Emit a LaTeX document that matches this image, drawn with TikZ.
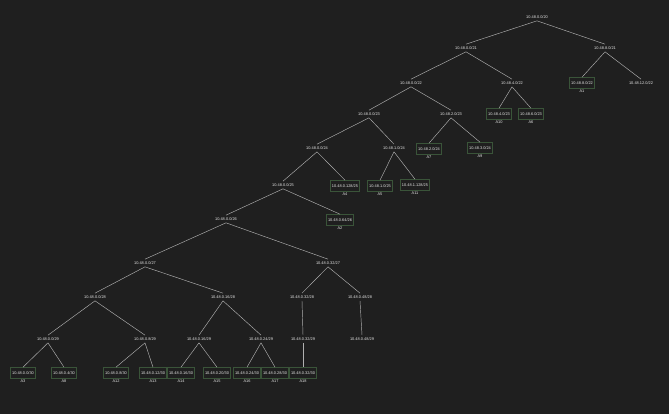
\documentclass[tikz,border=0pt]{standalone}
\usepackage{fontspec}
\setmainfont{Liberation Sans}
\definecolor{bg}{HTML}{1F1F1F}
\definecolor{txt}{HTML}{E4E4E4}
\definecolor{edge}{HTML}{B0B0B0}
\definecolor{leafline}{HTML}{3A5439}
\tikzset{
  net/.style={text=txt, font=\fontsize{3.9}{4.5}\selectfont, inner sep=2.2pt},
  leaf/.style={net, draw=leafline, line width=0.6pt, minimum height=11pt, inner xsep=1.4pt, inner ysep=1pt},
  tag/.style={text=txt, font=\fontsize{3.9}{4.5}\selectfont, inner sep=0.6pt},
}
\begin{document}
\begin{tikzpicture}[x=1pt, y=-1pt, every label/.style={tag}, label distance=0.5pt]
\useasboundingbox[fill=bg] (0,0) rectangle (669,414);
% level /20 to /22
\node[net] (s0x20) at (537,17) {10.48.0.0/20};
\node[net] (s0x21) at (466,48) {10.48.0.0/21};
\node[net] (s8x21) at (605,48) {10.48.8.0/21};
\node[leaf, label=below:A1] (s8x22) at (582,83) {10.48.8.0/22};
\node[net] (s12x22) at (641,83) {10.48.12.0/22};
\node[net] (s0x22) at (411,83) {10.48.0.0/22};
\node[net] (s4x22) at (512,83) {10.48.4.0/22};
% /23 and /24
\node[leaf, label=below:A10] (s4x23) at (499,114) {10.48.4.0/23};
\node[leaf, label=below:A6] (s6x23) at (531,114) {10.48.6.0/23};
\node[net] (s0x23) at (369,114) {10.48.0.0/23};
\node[net] (s2x23) at (451,114) {10.48.2.0/23};
\node[leaf, label=below:A7] (s2x24) at (429,149) {10.48.2.0/24};
\node[leaf, label=below:A9] (s3x24) at (480,148) {10.48.3.0/24};
\node[net] (s0x24) at (317,148) {10.48.0.0/24};
\node[net] (s1x24) at (394,148) {10.48.1.0/24};
% /25 and /26
\node[net] (s0x25) at (283,185) {10.48.0.0/25};
\node[leaf, label=below:A4] (s128x25) at (345,186) {10.48.0.128/25};
\node[leaf, label=below:A5] (s1x25) at (380,186) {10.48.1.0/25};
\node[leaf, label=below:A11] (s1h128x25) at (415,185) {10.48.1.128/25};
\node[net] (s0x26) at (226,219) {10.48.0.0/26};
\node[leaf, label=below:A2] (s64x26) at (340,220) {10.48.0.64/26};
% /27 and /28
\node[net] (s0x27) at (145,263) {10.48.0.0/27};
\node[net] (s32x27) at (328,263) {10.48.0.32/27};
\node[net] (s0x28) at (95,297) {10.48.0.0/28};
\node[net] (s16x28) at (223,297) {10.48.0.16/28};
\node[net] (s32x28) at (302,297) {10.48.0.32/28};
\node[net] (s48x28) at (360,297) {10.48.0.48/28};
% /29
\node[net] (s0x29) at (48,339) {10.48.0.0/29};
\node[net] (s8x29) at (145,339) {10.48.0.8/29};
\node[net] (s16x29) at (199,339) {10.48.0.16/29};
\node[net] (s24x29) at (261,339) {10.48.0.24/29};
\node[net] (s32x29) at (303,339) {10.48.0.32/29};
\node[net] (s48x29) at (362,339) {10.48.0.48/29};
% /30
\node[leaf, label=below:A3] (s0x30) at (23,373) {10.48.0.0/30};
\node[leaf, label=below:A8] (s4x30) at (64,373) {10.48.0.4/30};
\node[leaf, label=below:A12] (s8x30) at (116,373) {10.48.0.8/30};
\node[leaf, label=below:A13] (s12x30) at (153,373) {10.48.0.12/30};
\node[leaf, label=below:A14] (s16x30) at (181,373) {10.48.0.16/30};
\node[leaf, label=below:A15] (s20x30) at (217,373) {10.48.0.20/30};
\node[leaf, label=below:A16] (s24x30) at (247,373) {10.48.0.24/30};
\node[leaf, label=below:A17] (s28x30) at (275,373) {10.48.0.28/30};
\node[leaf, label=below:A18] (s32x30) at (303,373) {10.48.0.32/30};

\foreach \p/\c in {s0x20/s0x21, s0x20/s8x21, s8x21/s8x22, s8x21/s12x22,
  s0x21/s0x22, s0x21/s4x22, s4x22/s4x23, s4x22/s6x23,
  s0x22/s0x23, s0x22/s2x23, s2x23/s2x24, s2x23/s3x24,
  s0x23/s0x24, s0x23/s1x24, s1x24/s1x25, s1x24/s1h128x25,
  s0x24/s0x25, s0x24/s128x25, s0x25/s0x26, s0x25/s64x26,
  s0x26/s0x27, s0x26/s32x27, s0x27/s0x28, s0x27/s16x28,
  s32x27/s32x28, s32x27/s48x28, s0x28/s0x29, s0x28/s8x29,
  s16x28/s16x29, s16x28/s24x29, s32x28/s32x29, s48x28/s48x29,
  s0x29/s0x30, s0x29/s4x30, s8x29/s8x30, s8x29/s12x30,
  s16x29/s16x30, s16x29/s20x30, s24x29/s24x30, s24x29/s28x30,
  s32x29/s32x30}
  \draw[edge, line width=0.45pt] (\p.south) -- (\c.north);
\end{tikzpicture}
\end{document}
